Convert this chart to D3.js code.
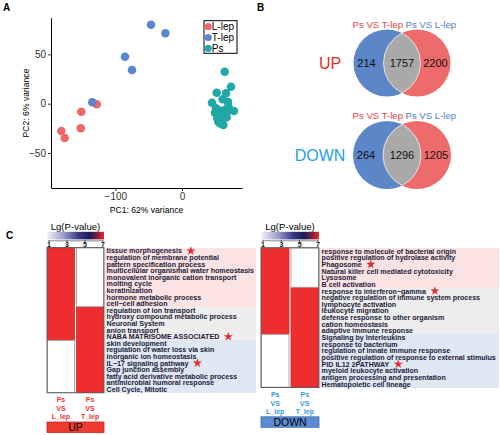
<!DOCTYPE html>
<html><head><meta charset="utf-8">
<script src="https://cdn.jsdelivr.net/npm/d3@7"></script>
<style>body{margin:0;background:#fff}svg{display:block}text{font-family:"Liberation Sans",Arial,Helvetica,sans-serif}</style>
</head><body><svg id="c" width="500" height="435"></svg>
<script>
// ---------- Panel A: PCA ----------
const pcaGroups = ["L-lep", "T-lep", "Ps"];
const llepPC1 = [-127.9, -151, -151.9, -181, -175.9];
const llepPC2 = [-0.6, -8.1, -24.9, -27.7, -34.8];
const tlepPC1 = [-134.5, -85.5, -75, -46.5, -25];
const tlepPC2 = [1.4, 47.6, 34.1, 80.0, 71.3];
const psPC1 = [64, 73.5, 52, 66, 45, 61, 69, 52, 57, 64.5, 72, 78, 49.5, 56, 62, 53, 59.5, 67, 57, 62, 54.5, 51, 69.4];
const psPC2 = [32.4, 17.2, 11.1, 10.5, 1.0, 4.5, 1.7, -6.4, -7.1, -6.4, -6.4, -7.4, -9.1, -11.4, -10.4, -14.8, -16.5, -13.8, -19.9, -21.6, -18.2, -4.7, -3.0];
const pcaXTicks = [-100, 0];
const pcaYTicks = [-50, 0, 50];

// ---------- Panel B: Venn ----------
const vennSets = ["Ps VS T-lep", "Ps VS L-lep"];
const vennUp = [214, 1757, 2200];
const vennDown = [264, 1296, 1205];

// ---------- Panel C: enrichment heatmaps ----------
const heatCols = ["Ps VS L_lep", "Ps VS T_lep"];
const colorTicks = [1, 3, 5, 7];
const upTerms = ["tissue morphogenesis", "regulation of membrane potential", "pattern specification process",
  "multicellular organismal water homeostasis", "monovalent inorganic cation transport", "molting cycle",
  "keratinization", "hormone metabolic process", "cell\u2212cell adhesion", "regulation of ion transport",
  "hydroxy compound metabolic process", "Neuronal System", "anion transport", "NABA MATRISOME ASSOCIATED",
  "skin development", "regulation of water loss via skin", "inorganic ion homeostasis", "IL\u221217 signaling pathway",
  "Gap junction assembly", "fatty acid derivative metabolic process", "antimicrobial humoral response", "Cell Cycle, Mitotic"];
const upLlep = [7, 7, 7, 7, 7, 7, 7, 7, 7, 7, 7, 7, 7, 7, null, null, null, null, null, null, null, null];
const upTlep = [null, null, null, null, null, null, null, null, null, 7, 7, 7, 7, 7, 7, 7, 7, 7, 7, 7, 7, 7];
const upStarred = ["tissue morphogenesis", "NABA MATRISOME ASSOCIATED", "IL\u221217 signaling pathway"];
const downTerms = ["response to molecule of bacterial origin", "positive regulation of hydrolase activity", "Phagosome",
  "Natural killer cell mediated cytotoxicity", "Lysosome", "B cell activation", "response to interferon\u2212gamma",
  "negative regulation of immune system process", "lymphocyte activation", "leukocyte migration",
  "defense response to other organism", "cation homeostasis", "adaptive immune response", "Signaling by Interleukins",
  "response to bacterium", "regulation of innate immune response", "positive regulation of response to external stimulus",
  "PID IL12 2PATHWAY", "myeloid leukocyte activation", "antigen processing and presentation", "Hematopoietic cell lineage"];
const downLlep = [7, 7, 7, 7, 7, 7, 7, 7, 7, 7, 7, 7, 7, null, null, null, null, null, null, null, null];
const downTlep = [null, null, null, null, null, null, 7, 7, 7, 7, 7, 7, 7, 7, 7, 7, 7, 7, 7, 7, 7];
const downStarred = ["Phagosome", "response to interferon\u2212gamma", "PID IL12 2PATHWAY"];

const svg = d3.select("#c");
const FONT = '"Liberation Sans",Arial,Helvetica,sans-serif';

// panel letters
[["A", 3, 11], ["B", 257, 11], ["C", 6, 239]].forEach(([t, x, y]) =>
  svg.append("text").attr("x", x).attr("y", y).attr("font-size", 10).attr("font-weight", "bold").text(t));

// ===== Panel A =====
const px = d3.scaleLinear().domain([-196.5, 90]).range([51, 242]);
const py = d3.scaleLinear().domain([-85, 87]).range([187.6, 17.8]);
const pcaColor = d3.scaleOrdinal().domain(pcaGroups).range(["#EE6868", "#5A86CE", "#21A8A6"]);
const gA = svg.append("g");
const fmtMinus = d => d < 0 ? "\u2212" + Math.abs(d) : d;
const xAx = gA.append("g").attr("transform", "translate(0,188)")
  .call(d3.axisBottom(px).tickValues(pcaXTicks).tickSize(3).tickSizeOuter(0).tickPadding(2).tickFormat(fmtMinus));
const yAx = gA.append("g").attr("transform", "translate(51,0)")
  .call(d3.axisLeft(py).tickValues(pcaYTicks).tickSize(3).tickSizeOuter(0).tickPadding(2).tickFormat(fmtMinus));
[xAx, yAx].forEach(a => {
  a.selectAll("text").attr("font-size", 10).attr("fill", "#333").attr("font-family", FONT);
  a.selectAll("line").attr("stroke", "#333");
  a.select(".domain").attr("stroke", "#000");
});
gA.append("text").attr("x", 146.5).attr("y", 213).attr("text-anchor", "middle").attr("font-size", 8.6).text("PC1: 62% variance");
gA.append("text").attr("transform", "translate(29,103) rotate(-90)").attr("text-anchor", "middle").attr("font-size", 8.6).text("PC2: 6% variance");
const pts = [];
llepPC1.forEach((v, i) => pts.push({ g: "L-lep", x: v, y: llepPC2[i] }));
tlepPC1.forEach((v, i) => pts.push({ g: "T-lep", x: v, y: tlepPC2[i] }));
psPC1.forEach((v, i) => pts.push({ g: "Ps", x: v, y: psPC2[i] }));
gA.selectAll("circle.p").data(pts).join("circle").attr("class", "p")
  .attr("cx", d => px(d.x)).attr("cy", d => py(d.y)).attr("r", 4.3).attr("fill", d => pcaColor(d.g));
const leg = gA.append("g");
leg.append("rect").attr("x", 204).attr("y", 20.7).attr("width", 33).attr("height", 32.6).attr("fill", "#fff").attr("stroke", "#000").attr("stroke-width", 1);
pcaGroups.forEach((gname, i) => {
  const yy = 26.7 + i * 10.8;
  leg.append("circle").attr("cx", 208.2).attr("cy", yy).attr("r", 3.6).attr("fill", pcaColor(gname));
  leg.append("text").attr("x", 211.8).attr("y", yy).attr("dy", "0.35em").attr("font-size", 10).text(gname);
});

// ===== Panel B: Venn =====
function venn(cy, r, vals, title, titleColor, labelY) {
  const g = svg.append("g");
  const mid = 402, d = 30;
  const c1 = mid - d / 2, c2 = mid + d / 2;
  g.append("circle").attr("cx", c1).attr("cy", cy).attr("r", r).attr("fill", "#5B86C8");
  g.append("circle").attr("cx", c2).attr("cy", cy).attr("r", r).attr("fill", "#EE6B6B");
  const h = Math.sqrt(r * r - (d / 2) * (d / 2));
  g.append("path").attr("d", `M${mid},${cy - h}A${r},${r} 0 0 1 ${mid},${cy + h}A${r},${r} 0 0 1 ${mid},${cy - h}Z`)
    .attr("fill", "#A9A9A9").attr("stroke", "#f4f4f4").attr("stroke-width", 0.8);
  const xs = [(c1 - r + c2 - r) / 2 - 2, mid, (c1 + r + c2 + r) / 2];
  vals.forEach((v, i) => g.append("text").attr("x", xs[i]).attr("y", cy).attr("dy", "0.36em")
    .attr("text-anchor", "middle").attr("font-size", 11).attr("fill", "#111").text(v));
  g.append("text").attr("x", 403).attr("y", labelY).attr("text-anchor", "end").attr("font-size", 9.6).attr("fill", "#E84545").text(vennSets[0]);
  g.append("text").attr("x", 405.5).attr("y", labelY).attr("text-anchor", "start").attr("font-size", 9.6).attr("fill", "#4F7FC4").text(vennSets[1]);
  g.append("text").attr("x", title === "UP" ? 330 : 320).attr("y", cy).attr("dy", "0.36em").attr("text-anchor", "middle")
    .attr("font-size", 16).attr("fill", titleColor).text(title);
}
venn(63, 33.5, vennUp, "UP", "#E82828", 27.5);
venn(155, 34, vennDown, "DOWN", "#22A3E6", 119);

// ===== Panel C =====
const defs = svg.append("defs");
const grad = defs.append("linearGradient").attr("id", "lgp");
[[0, "#f2f2fa"], [0.3, "#9a9acc"], [0.55, "#3a3a86"], [0.75, "#1c1c58"], [0.88, "#7a2040"], [1, "#f02424"]]
  .forEach(([o, c]) => grad.append("stop").attr("offset", o).attr("stop-color", c));
const heatColor = d3.scaleLinear().domain([1, 3, 5, 7]).range(["#f2f2fa", "#6a6aaa", "#1c1c58", "#EE2E2E"]);

function heatPanel(cfg) {
  const g = svg.append("g");
  const hx = d3.scaleBand().domain(heatCols).range([cfg.x0, cfg.x1]).paddingInner(0.04);
  const hy = d3.scaleBand().domain(cfg.terms).range([cfg.yTop, cfg.yBot]);
  const cb = d3.scaleLinear().domain([1, 7]).range([cfg.x0 + 1.5, cfg.x1 - 1.5]);
  // bands
  const cls = cfg.terms.map((t, i) => cfg.a[i] != null && cfg.b[i] != null ? "#EDEDED" : (cfg.a[i] != null ? "#FBE3E3" : "#DFE7F3"));
  g.selectAll("rect.band").data(cfg.terms).join("rect").attr("class", "band")
    .attr("x", cfg.x1 + 1).attr("y", d => hy(d)).attr("width", cfg.bandRight - cfg.x1 - 1).attr("height", hy.bandwidth() + 0.3)
    .attr("fill", (d, i) => cls[i]).attr("shape-rendering", "crispEdges");
  // box background
  g.append("rect").attr("x", cfg.x0).attr("y", cfg.yTop).attr("width", cfg.x1 - cfg.x0).attr("height", cfg.yBot - cfg.yTop).attr("fill", "#fff");
  // cells, merged into runs of equal significance
  [cfg.a, cfg.b].forEach((vals, ci) => {
    const runs = [];
    let s = 0;
    for (let i = 1; i <= vals.length; i++) {
      if (i === vals.length || (vals[i] == null) !== (vals[s] == null) || (vals[i] !== vals[s])) {
        runs.push({ s, e: i - 1, v: vals[s] });
        s = i;
      }
    }
    g.selectAll("rect.run" + ci).data(runs).join("rect").attr("class", "run" + ci)
      .attr("x", hx(heatCols[ci]) + 0.4).attr("y", r => hy(cfg.terms[r.s]) + 0.4)
      .attr("width", hx.bandwidth() - 0.8)
      .attr("height", r => hy(cfg.terms[r.e]) + hy.bandwidth() - hy(cfg.terms[r.s]) - 0.8)
      .attr("fill", r => r.v == null ? "#fff" : heatColor(r.v))
      .attr("stroke", r => r.v == null ? "#9a9a9a" : "#d22a2a").attr("stroke-width", 0.8);
  });
  g.append("rect").attr("x", cfg.x0).attr("y", cfg.yTop).attr("width", cfg.x1 - cfg.x0).attr("height", cfg.yBot - cfg.yTop)
    .attr("fill", "none").attr("stroke", "#555").attr("stroke-width", 0.9);
  // colour bar (drawn last so its labels stay visible)
  g.append("text").attr("x", (cfg.x0 + cfg.x1) / 2).attr("y", 229.5).attr("text-anchor", "middle").attr("font-size", 9.6).text("Lg(P-value)");
  g.append("rect").attr("x", cfg.x0).attr("y", 231.8).attr("width", cfg.x1 - cfg.x0).attr("height", 7.6).attr("fill", "url(#lgp)");
  const ax = g.append("g").attr("transform", "translate(0,240.3)")
    .call(d3.axisBottom(cb).tickValues(colorTicks).tickFormat(d3.format("d")).tickSize(1.6).tickSizeOuter(0));
  ax.selectAll("text").attr("y", 6.4).attr("dy", 0).attr("font-size", 7).attr("font-weight", "bold").attr("fill", "#111").attr("font-family", FONT);
  ax.select(".domain").attr("stroke", "#333").attr("stroke-width", 0.6);
  ax.selectAll("line").attr("stroke", "#333");
  // term labels + stars
  const star = d3.symbol().type(d3.symbolStar).size(26);
  cfg.terms.forEach(t => {
    const tx = g.append("text").attr("x", cfg.x1 + 2.6).attr("y", hy(t) + hy.bandwidth() / 2).attr("dy", "0.36em")
      .attr("font-size", 7.1).attr("font-weight", "bold").attr("fill", "#1b1b3a").text(t);
    if (cfg.starred.includes(t)) {
      const w = tx.node().getComputedTextLength();
      g.append("path").attr("d", star).attr("fill", "#E82830")
        .attr("transform", `translate(${cfg.x1 + 2.6 + w + 9},${hy(t) + hy.bandwidth() / 2})`);
    }
  });
  // column labels
  heatCols.forEach(c => {
    const parts = c.split(" ");
    parts.forEach((p, k) => g.append("text").attr("x", hx(c) + hx.bandwidth() / 2).attr("y", cfg.labY + k * 8.7)
      .attr("text-anchor", "middle").attr("font-size", 7).attr("font-weight", "bold").attr("fill", cfg.labColor).text(p));
  });
  g.append("rect").attr("x", cfg.x0).attr("y", cfg.barY).attr("width", cfg.x1 - cfg.x0).attr("height", 10.5)
    .attr("fill", cfg.barFill).attr("stroke", cfg.barStroke).attr("stroke-width", 0.8);
  g.append("text").attr("x", (cfg.x0 + cfg.x1) / 2).attr("y", cfg.barY + 5.4).attr("dy", "0.36em").attr("text-anchor", "middle")
    .attr("font-size", 10.5).attr("fill", "#000").text(cfg.bar);
}
heatPanel({ terms: upTerms, a: upLlep, b: upTlep, starred: upStarred, x0: 47, x1: 104, yTop: 247.6, yBot: 392.8,
  bandRight: 256, labColor: "#EE3434", labY: 401.8, barY: 422, barFill: "#EE3B30", barStroke: "#c82020", bar: "UP" });
heatPanel({ terms: downTerms, a: downLlep, b: downTlep, starred: downStarred, x0: 261, x1: 319, yTop: 247.7, yBot: 387.5,
  bandRight: 499, labColor: "#2F9BE0", labY: 396.8, barY: 416.8, barFill: "#5B8BD0", barStroke: "#3d6fb5", bar: "DOWN" });
</script></body></html>
